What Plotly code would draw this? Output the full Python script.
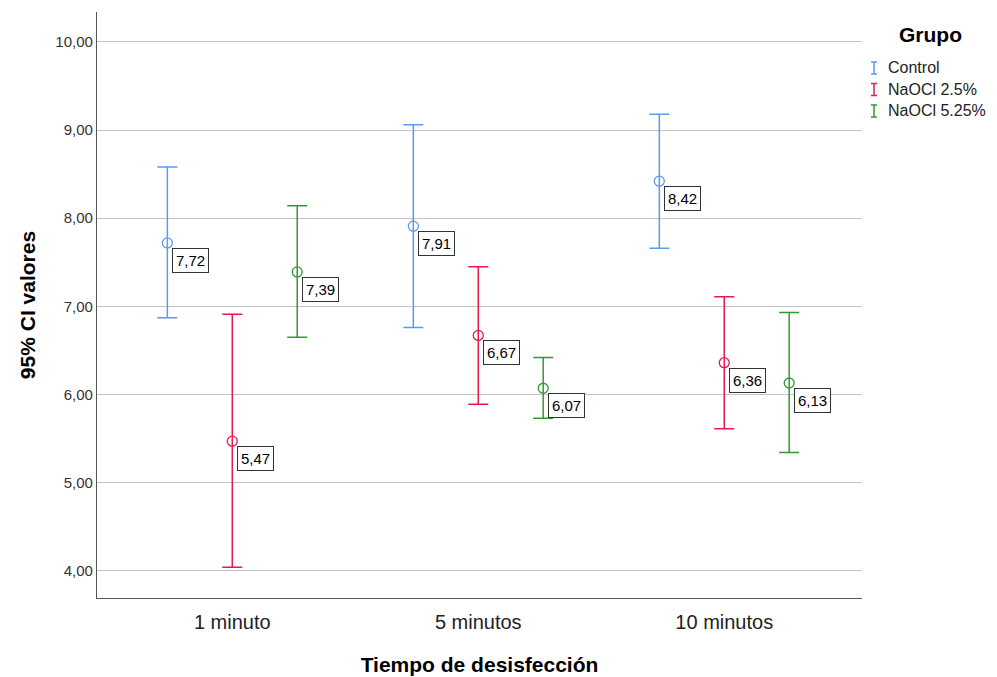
import plotly.graph_objects as go

categories = ["1 minuto", "5 minutos", "10 minutos"]
groups = ["Control", "NaOCl 2.5%", "NaOCl 5.25%"]
colors = ["#5A9BEB", "#E8194C", "#339933"]

means = {
    "Control": [7.72, 7.91, 8.42],
    "NaOCl 2.5%": [5.47, 6.67, 6.36],
    "NaOCl 5.25%": [7.39, 6.07, 6.13],
}
upper = {
    "Control": [8.58, 9.06, 9.18],
    "NaOCl 2.5%": [6.91, 7.45, 7.11],
    "NaOCl 5.25%": [8.14, 6.42, 6.93],
}
lower = {
    "Control": [6.87, 6.76, 7.66],
    "NaOCl 2.5%": [4.04, 5.89, 5.61],
    "NaOCl 5.25%": [6.65, 5.73, 5.34],
}
mean_labels = {
    "Control": ["7,72", "7,91", "8,42"],
    "NaOCl 2.5%": ["5,47", "6,67", "6,36"],
    "NaOCl 5.25%": ["7,39", "6,07", "6,13"],
}
y_ticks = [4, 5, 6, 7, 8, 9, 10]
y_tick_text = ["4,00", "5,00", "6,00", "7,00", "8,00", "9,00", "10,00"]

offsets = [-0.264, 0.0, 0.264]
FONT = "Liberation Sans, Arial, sans-serif"

# page has an 8px body margin; figure sized to fit the window
OFF = 8
W, H = 997 - OFF, 677 - OFF
ml, mr, mt, mb = 89, 135, 4, 79
pw, ph = W - ml - mr, H - mt - mb


def px(xr):
    return (xr - OFF - ml) / pw


def py(yr):
    return 1 - (yr - OFF - mt) / ph


fig = go.Figure()
annotations = []
for g, col, off in zip(groups, colors, offsets):
    xs = [i + off for i in range(len(categories))]
    m = means[g]
    fig.add_trace(go.Scatter(
        x=xs, y=m, mode="markers", name=g, showlegend=False,
        marker=dict(symbol="circle-open", size=10, color=col, line=dict(width=1.3, color=col)),
        error_y=dict(type="data", symmetric=False,
                     array=[u - v for u, v in zip(upper[g], m)],
                     arrayminus=[v - l for v, l in zip(m, lower[g])],
                     color=col, thickness=1.5, width=10),
    ))
    for x, y, t in zip(xs, m, mean_labels[g]):
        annotations.append(dict(
            x=x, y=y, xref="x", yref="y", text=t, showarrow=False,
            xanchor="left", yanchor="top", xshift=5, yshift=-5,
            font=dict(family=FONT, size=15, color="#000000"),
            bgcolor="#ffffff", bordercolor="#333333", borderwidth=1, borderpad=3,
        ))

# Legend (manual, error-bar style icons)
annotations.append(dict(x=px(931), y=py(34), xref="paper", yref="paper", text="<b>Grupo</b>",
                        showarrow=False, font=dict(family=FONT, size=21, color="#000"),
                        xanchor="center", yanchor="middle"))
shapes = []
for i, (g, col) in enumerate(zip(groups, colors)):
    yc = 68 + i * 21.5
    xc = 874
    shapes.append(dict(type="line", xref="paper", yref="paper", x0=px(xc), x1=px(xc),
                       y0=py(yc - 6), y1=py(yc + 6), line=dict(color=col, width=1.5)))
    for dy in (-6, 6):
        shapes.append(dict(type="line", xref="paper", yref="paper", x0=px(xc - 3), x1=px(xc + 3),
                           y0=py(yc + dy), y1=py(yc + dy), line=dict(color=col, width=1.5)))
    annotations.append(dict(x=px(886), y=py(yc), xref="paper", yref="paper", text=g,
                            showarrow=False, xanchor="left", yanchor="middle",
                            font=dict(family=FONT, size=16, color="#222")))

fig.update_layout(
    width=W, height=H,
    margin=dict(l=ml, r=mr, t=mt, b=mb, autoexpand=False),
    paper_bgcolor="white", plot_bgcolor="white",
    annotations=annotations, shapes=shapes,
    showlegend=False,
    font=dict(family=FONT),
)
fig.update_xaxes(
    range=[-0.55, 2.56], tickvals=list(range(len(categories))), ticktext=categories,
    showgrid=False, zeroline=False, showline=True, linecolor="#555", linewidth=1.2,
    ticks="", ticklabelstandoff=6, tickfont=dict(family=FONT, size=20, color="#222"), automargin=False,
    title=dict(text="<b>Tiempo de desisfección</b>", font=dict(family=FONT, size=21, color="#000"), standoff=25),
)
fig.update_yaxes(
    range=[3.69, 10.34], tickvals=y_ticks, ticktext=y_tick_text,
    showgrid=True, gridcolor="#c4c4c4", gridwidth=1.3, zeroline=False,
    showline=True, linecolor="#555", linewidth=1.2, automargin=False,
    ticks="outside", ticklen=0, tickfont=dict(family=FONT, size=15, color="#333"),
    title=dict(text="<b>95% CI valores</b>", font=dict(family=FONT, size=21, color="#000"), standoff=14),
)

fig.write_html("out.html")
